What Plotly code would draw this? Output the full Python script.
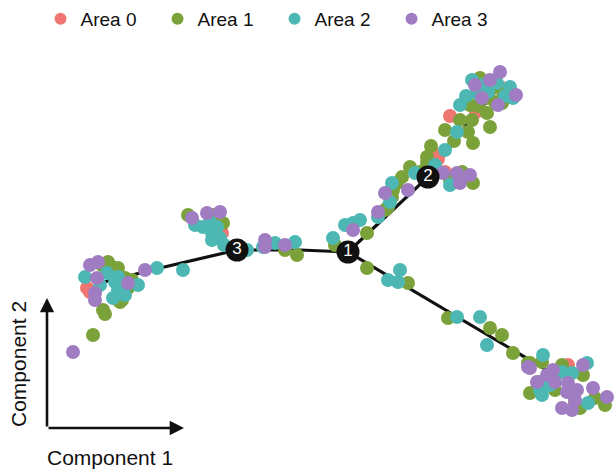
import plotly.graph_objects as go

# Cell embedding (Component 1, Component 2) per area
area_names = ["Area 0", "Area 1", "Area 2", "Area 3"]
area_colors = ["#F07671", "#7BA23A", "#4DB8B3", "#A07CC2"]

area0_x = [87, 90, 222, 432, 438, 450, 476, 502, 445, 568]
area0_y = [288, 292, 233, 151, 159, 116, 112, 88, 172, 365]

area1_x = [93, 103, 105, 102, 112, 118, 125, 122, 128, 120, 108, 132, 188, 212, 215, 223,
           285, 297, 335, 367, 367, 385, 388, 392, 393, 397, 402, 410, 420,
           450, 462, 467, 473, 431, 427, 427, 454, 473, 445, 468, 490, 460, 472,
           487, 470, 503, 510, 487, 495, 502, 480, 492, 478, 408, 448, 490, 502, 513, 528, 542,
           530, 562, 583, 540, 530, 555, 605, 575, 580, 595]
area1_y = [335, 310, 314, 265, 267, 268, 278, 300, 288, 302, 262, 280, 215, 215, 218, 223,
           250, 255, 245, 233, 268, 210, 207, 197, 190, 183, 177, 167, 172,
           180, 172, 177, 183, 146, 157, 163, 141, 143, 130, 132, 127, 120, 120,
           113, 105, 92, 97, 98, 102, 103, 78, 88, 106, 283, 318, 328, 335, 353, 363, 362,
           363, 365, 375, 382, 393, 390, 405, 402, 408, 398]

area2_x = [85, 107, 118, 138, 115, 113, 118, 100, 125, 157, 183, 195, 203, 210, 217, 212,
           212, 220, 224, 247, 263, 275, 295, 333, 345, 353, 360, 378, 390, 392,
           415, 435, 445, 450, 460, 457, 477, 488, 483, 497, 510, 513, 472, 466, 505,
           388, 400, 398, 457, 480, 487, 543, 562, 572, 587, 540, 542, 550, 588]
area2_y = [277, 273, 277, 285, 282, 298, 290, 285, 295, 268, 270, 225, 227, 222, 227, 233,
           240, 238, 245, 250, 247, 243, 242, 238, 225, 223, 220, 217, 202, 183,
           173, 165, 150, 185, 105, 132, 93, 92, 85, 83, 87, 98, 80, 96, 96,
           280, 270, 282, 317, 317, 345, 355, 372, 373, 363, 390, 395, 385, 403]

area3_x = [73, 90, 98, 97, 128, 95, 95, 145, 192, 220, 207, 265, 265, 285, 353,
           378, 385, 408, 443, 457, 460, 470, 500, 475, 482, 498, 516, 490, 528, 530,
           583, 547, 553, 555, 568, 537, 577, 567, 593, 607, 575, 562, 572]
area3_y = [352, 265, 262, 278, 283, 293, 300, 270, 218, 212, 213, 240, 247, 245, 230,
           212, 193, 190, 173, 173, 183, 175, 72, 85, 98, 105, 95, 80, 367, 368,
           365, 375, 370, 382, 383, 382, 390, 392, 388, 397, 400, 408, 410]

area_x = [area0_x, area1_x, area2_x, area3_x]
area_y = [area0_y, area1_y, area2_y, area3_y]

# Principal graph (trajectory backbone)
edges = [
    ([100, 160, 237, 300, 348], [283, 268, 250, 250, 252]),
    ([348, 428, 465, 495], [252, 177, 127, 92]),
    ([348, 550], [252, 372]),
    ([237, 210], [250, 226]),
    ([428, 462], [177, 178]),
]

# Branch points
branch_x = [348, 428, 237]
branch_y = [252, 177, 250]
branch_labels = ["1", "2", "3"]

fig = go.Figure()

for ex, ey in edges:
    fig.add_trace(go.Scatter(x=ex, y=ey, mode="lines",
                             line=dict(color="#111111", width=3.2),
                             showlegend=False, hoverinfo="skip"))

for name, color, xs, ys in zip(area_names, area_colors, area_x, area_y):
    fig.add_trace(go.Scatter(x=xs, y=ys, mode="markers", name=name,
                             marker=dict(color=color, size=14, line=dict(width=0))))

fig.add_trace(go.Scatter(x=branch_x, y=branch_y, mode="markers+text",
                         text=branch_labels, textposition="middle center",
                         textfont=dict(color="white", size=17, family="Liberation Sans"),
                         marker=dict(color="#111111", size=23, line=dict(width=0)),
                         showlegend=False, hoverinfo="skip"))

axis_common = dict(visible=False, showgrid=False, zeroline=False, fixedrange=True)

fig.update_layout(
    width=614, height=472,
    margin=dict(l=0, r=0, t=0, b=0),
    paper_bgcolor="white", plot_bgcolor="white",
    xaxis=dict(range=[0, 614], **axis_common),
    yaxis=dict(range=[472, 0], **axis_common),
    font=dict(family="Liberation Sans", color="#111111"),
    legend=dict(orientation="h", x=0.066, xanchor="left", y=1.0, yanchor="top",
                font=dict(size=19), itemsizing="constant",
                entrywidth=72, entrywidthmode="pixels",
                bgcolor="rgba(0,0,0,0)"),
    annotations=[
        dict(xref="paper", yref="paper", x=47 / 614, y=1 - 298 / 472,
             ax=0, ay=130, showarrow=True, arrowhead=2, arrowsize=1.1,
             arrowwidth=2.6, arrowcolor="#111111", text=""),
        dict(xref="paper", yref="paper", x=184 / 614, y=1 - 428 / 472,
             ax=-137, ay=0, showarrow=True, arrowhead=2, arrowsize=1.1,
             arrowwidth=2.6, arrowcolor="#111111", text=""),
        dict(xref="paper", yref="paper", x=110 / 614, y=1 - 457 / 472,
             xanchor="center", yanchor="middle",
             text="Component 1", showarrow=False, font=dict(size=21)),
        dict(xref="paper", yref="paper", x=18 / 614, y=1 - 364 / 472,
             xanchor="center", yanchor="middle",
             text="Component 2", showarrow=False, textangle=-90, font=dict(size=21)),
    ],
)

fig.write_html("out.html")
